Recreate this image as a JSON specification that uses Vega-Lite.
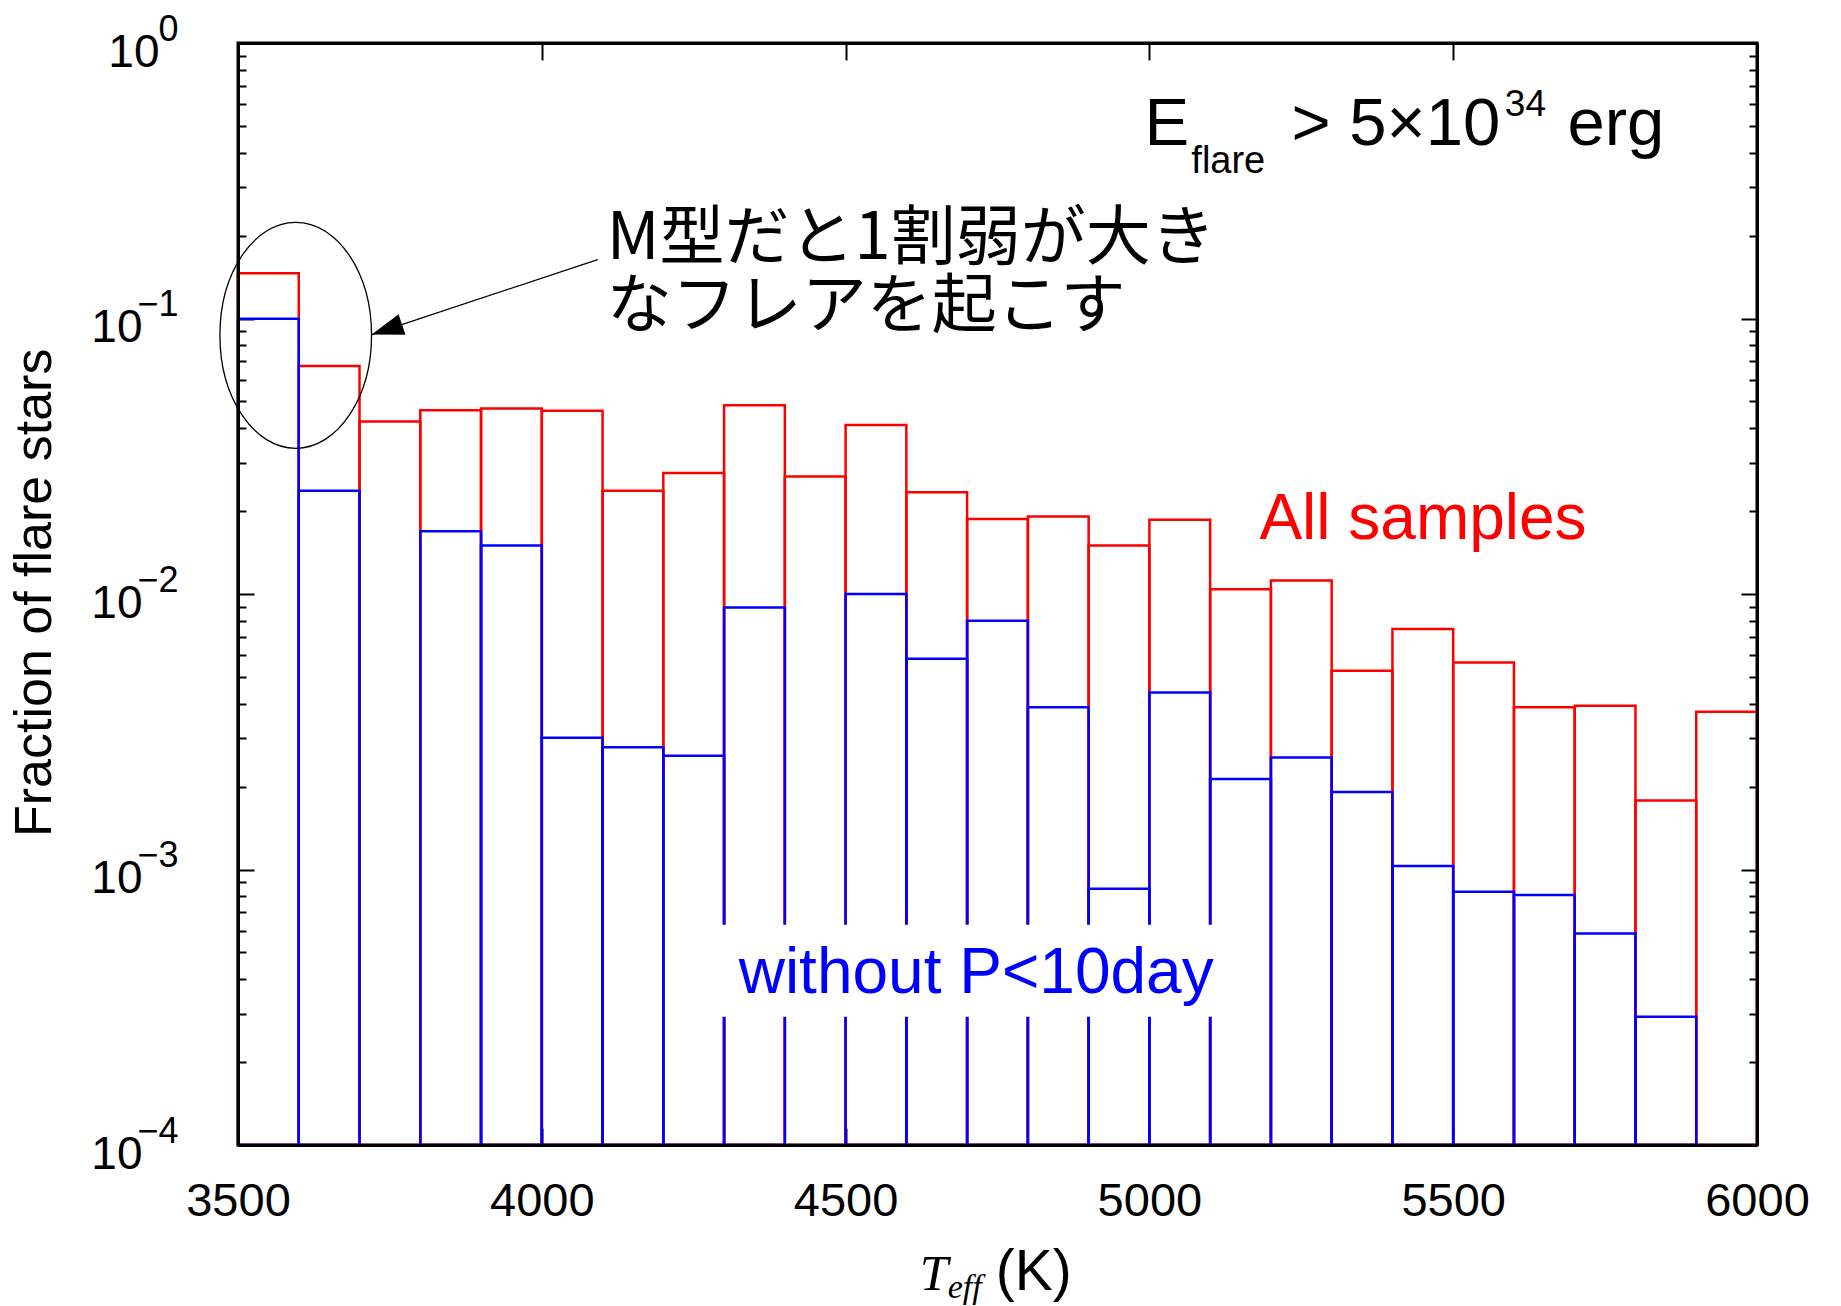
{
  "$schema": "https://vega.github.io/schema/vega-lite/v6.json",
  "width": 1519,
  "height": 1102,
  "autosize": {"type": "none"},
  "padding": {"left": 238, "top": 43, "right": 84, "bottom": 161},
  "background": "white",
  "config": {
    "view": {"stroke": "black", "strokeWidth": 3},
    "axis": {"grid": false, "domain": false, "labelFont": "Liberation Sans", "labelColor": "black", "tickColor": "black", "tickWidth": 2, "labelFlush": false, "labelOverlap": false, "domainColor": "black", "domainWidth": 3}
  },
  "datasets": {
    "bins": [
      {"t0": 3500, "t1": 3600, "all": 0.146, "nop": 0.0998},
      {"t0": 3600, "t1": 3700, "all": 0.0672, "nop": 0.0237},
      {"t0": 3700, "t1": 3800, "all": 0.0423, "nop": 0},
      {"t0": 3800, "t1": 3900, "all": 0.0464, "nop": 0.0169},
      {"t0": 3900, "t1": 4000, "all": 0.0471, "nop": 0.0150},
      {"t0": 4000, "t1": 4100, "all": 0.0463, "nop": 0.00301},
      {"t0": 4100, "t1": 4200, "all": 0.0237, "nop": 0.00278},
      {"t0": 4200, "t1": 4300, "all": 0.0275, "nop": 0.00259},
      {"t0": 4300, "t1": 4400, "all": 0.0484, "nop": 0.00893},
      {"t0": 4400, "t1": 4500, "all": 0.0267, "nop": 0},
      {"t0": 4500, "t1": 4600, "all": 0.0411, "nop": 0.0100},
      {"t0": 4600, "t1": 4700, "all": 0.0234, "nop": 0.00582},
      {"t0": 4700, "t1": 4800, "all": 0.0187, "nop": 0.00799},
      {"t0": 4800, "t1": 4900, "all": 0.0191, "nop": 0.00388},
      {"t0": 4900, "t1": 5000, "all": 0.0150, "nop": 0.000851},
      {"t0": 5000, "t1": 5100, "all": 0.0186, "nop": 0.00439},
      {"t0": 5100, "t1": 5200, "all": 0.0104, "nop": 0.00213},
      {"t0": 5200, "t1": 5300, "all": 0.0112, "nop": 0.00255},
      {"t0": 5300, "t1": 5400, "all": 0.00527, "nop": 0.00191},
      {"t0": 5400, "t1": 5500, "all": 0.00747, "nop": 0.00103},
      {"t0": 5500, "t1": 5600, "all": 0.00564, "nop": 0.000830},
      {"t0": 5600, "t1": 5700, "all": 0.00388, "nop": 0.000808},
      {"t0": 5700, "t1": 5800, "all": 0.00393, "nop": 0.000586},
      {"t0": 5800, "t1": 5900, "all": 0.00178, "nop": 0.000292},
      {"t0": 5900, "t1": 6000, "all": 0.00374, "nop": 0}
    ],
    "big": [
      {"txt": "E", "x": 4992, "y": 0.4246},
      {"txt": "> 5×10", "x": 5234, "y": 0.4246},
      {"txt": "erg", "x": 5688, "y": 0.4246}
    ],
    "sub": [{"txt": "flare", "x": 5069, "y": 0.3379}],
    "sup": [{"txt": "34", "x": 5585, "y": 0.5427}],
    "jp": [
      {"txt": "M型だと1割弱が大き\nなフレアを起こす", "x": 4107, "y": 0.1951}
    ],
    "allLabel": [{"txt": "All samples", "x": 5181, "y": 0.01582}],
    "nopLabel": [{"txt": "without P<10day", "x": 4324, "y": 0.000356}],
    "box": [{"x0": 4245, "x1": 5150, "y0": 0.000292, "y1": 0.00063}],
    "ellipse": [{"x": 3595, "y": 0.0869}],
    "arrow": [{"x": 4092, "y": 0.1637, "x2": 3720, "y2": 0.0874}],
    "xT": [{"txt": "T", "x": 4622, "y": 0.00002974}],
    "xEff": [{"txt": "eff", "x": 4668, "y": 0.00002781}],
    "xK": [{"txt": "(K)", "x": 4747, "y": 0.00002974}],
    "yTitle": [{"txt": "Fraction of flare stars", "x": 3193, "y": 0.0101}]
  },
  "resolve": {"axis": {"x": "independent", "y": "independent"}},
  "layer": [
    {
      "data": {"name": "bins"},
      "mark": {"type": "rect", "filled": false, "stroke": "#ff0000", "strokeWidth": 2.5},
      "encoding": {
        "x": {"field": "t0", "type": "quantitative", "scale": {"type": "linear", "domain": [3500, 6000], "nice": false, "zero": false},
              "axis": {"orient": "bottom", "values": [3500, 4000, 4500, 5000, 5500, 6000], "format": "d", "ticks": false, "labelFontSize": 47, "labelPadding": 33, "domain": true, "zindex": 1, "title": null}},
        "x2": {"field": "t1"},
        "y": {"field": "all", "type": "quantitative", "scale": {"type": "log", "domain": [0.0001, 1], "nice": false},
              "axis": {"orient": "left", "values": [0.0001, 0.001, 0.01, 0.1, 1], "ticks": false, "labelExpr": "'10'", "labelFont": "Liberation Sans Narrow, Liberation Sans", "labelFontSize": 46, "labelPadding": {"condition": {"test": "datum.value > 0.5", "value": 79}, "value": 96}, "labelOffset": 9, "labelAlign": "right", "labelBaseline": "middle", "domain": true, "zindex": 1, "title": null}},
        "y2": {"datum": 0.0001}
      }
    },
    {
      "data": {"name": "bins"},
      "transform": [{"filter": "datum.nop > 0"}],
      "mark": {"type": "rect", "filled": false, "stroke": "#0000ff", "strokeWidth": 2.5},
      "encoding": {
        "x": {"field": "t0", "type": "quantitative", "scale": {"type": "linear", "domain": [3500, 6000], "nice": false, "zero": false},
              "axis": {"orient": "top", "values": [3500, 4000, 4500, 5000, 5500, 6000], "labels": false, "ticks": true, "tickSize": 17, "offset": -17, "title": null}},
        "x2": {"field": "t1"},
        "y": {"field": "nop", "type": "quantitative", "scale": {"type": "log", "domain": [0.0001, 1], "nice": false},
              "axis": {"orient": "left", "values": [0.0001, 0.001, 0.01, 0.1, 1], "ticks": false, "labelExpr": "datum.value > 0.5 ? '0' : datum.value > 0.05 ? '−1' : datum.value > 0.005 ? '−2' : datum.value > 0.0005 ? '−3' : '−4'", "labelFont": "Liberation Sans Narrow, Liberation Sans", "labelFontSize": 36, "labelPadding": 60, "labelOffset": -14, "labelAlign": "right", "labelBaseline": "middle", "zindex": 1, "title": null}},
        "y2": {"datum": 0.0001}
      }
    },
    {
      "data": {"name": "box"},
      "mark": {"type": "rect", "fill": "white", "stroke": null},
      "encoding": {
        "x": {"field": "x0", "type": "quantitative", "scale": {"type": "linear", "domain": [3500, 6000], "nice": false, "zero": false},
              "axis": {"orient": "bottom", "values": [3500, 4000, 4500, 5000, 5500, 6000], "labels": false, "ticks": true, "tickSize": 17, "offset": -17, "title": null}},
        "x2": {"field": "x1"},
        "y": {"field": "y1", "type": "quantitative", "scale": {"type": "log", "domain": [0.0001, 1], "nice": false},
              "axis": {"orient": "left", "values": [0.0001, 0.001, 0.01, 0.1, 1], "labels": false, "ticks": true, "tickSize": 16, "offset": -16, "title": null}},
        "y2": {"field": "y0"}
      }
    },
    {
      "data": {"name": "jp"},
      "mark": {"type": "text", "font": "Noto Sans CJK JP", "fontSize": 65, "lineHeight": 68, "lineBreak": "\n", "align": "left", "baseline": "middle", "color": "black"},
      "encoding": {
        "x": {"field": "x", "type": "quantitative", "scale": {"type": "linear", "domain": [3500, 6000], "nice": false, "zero": false}, "axis": null},
        "y": {"field": "y", "type": "quantitative", "scale": {"type": "log", "domain": [0.0001, 1], "nice": false},
              "axis": {"orient": "left", "values": [0.0002, 0.0003, 0.0004, 0.0005, 0.0006, 0.0007, 0.0008, 0.0009, 0.002, 0.003, 0.004, 0.005, 0.006, 0.007, 0.008, 0.009, 0.02, 0.03, 0.04, 0.05, 0.06, 0.07, 0.08, 0.09, 0.2, 0.3, 0.4, 0.5, 0.6, 0.7, 0.8, 0.9], "labels": false, "ticks": true, "tickSize": 8, "offset": -8, "title": null}},
        "text": {"field": "txt"}
      }
    },
    {
      "data": {"name": "allLabel"},
      "mark": {"type": "text", "font": "Liberation Sans", "fontSize": 64, "align": "left", "baseline": "alphabetic", "color": "#ff0000"},
      "encoding": {
        "x": {"field": "x", "type": "quantitative", "scale": {"type": "linear", "domain": [3500, 6000], "nice": false, "zero": false}, "axis": null},
        "y": {"field": "y", "type": "quantitative", "scale": {"type": "log", "domain": [0.0001, 1], "nice": false},
              "axis": {"orient": "right", "values": [0.0001, 0.001, 0.01, 0.1, 1], "labels": false, "ticks": true, "tickSize": 16, "offset": -16, "title": null}},
        "text": {"field": "txt"}
      }
    },
    {
      "data": {"name": "nopLabel"},
      "mark": {"type": "text", "font": "Liberation Sans", "fontSize": 64, "align": "left", "baseline": "alphabetic", "color": "#0000ff"},
      "encoding": {
        "x": {"field": "x", "type": "quantitative", "scale": {"type": "linear", "domain": [3500, 6000], "nice": false, "zero": false}, "axis": null},
        "y": {"field": "y", "type": "quantitative", "scale": {"type": "log", "domain": [0.0001, 1], "nice": false},
              "axis": {"orient": "right", "values": [0.0002, 0.0003, 0.0004, 0.0005, 0.0006, 0.0007, 0.0008, 0.0009, 0.002, 0.003, 0.004, 0.005, 0.006, 0.007, 0.008, 0.009, 0.02, 0.03, 0.04, 0.05, 0.06, 0.07, 0.08, 0.09, 0.2, 0.3, 0.4, 0.5, 0.6, 0.7, 0.8, 0.9], "labels": false, "ticks": true, "tickSize": 8, "offset": -8, "title": null}},
        "text": {"field": "txt"}
      }
    },
    {
      "data": {"name": "big"},
      "mark": {"type": "text", "font": "Liberation Sans", "fontSize": 67, "align": "left", "baseline": "alphabetic", "color": "black"},
      "encoding": {
        "x": {"field": "x", "type": "quantitative", "scale": {"type": "linear", "domain": [3500, 6000], "nice": false, "zero": false},
              "axis": {"orient": "top", "labels": false, "ticks": false, "domain": true, "zindex": 1, "title": null}},
        "y": {"field": "y", "type": "quantitative", "scale": {"type": "log", "domain": [0.0001, 1], "nice": false},
              "axis": {"orient": "right", "labels": false, "ticks": false, "domain": true, "zindex": 1, "title": null}},
        "text": {"field": "txt"}
      }
    },
    {
      "data": {"name": "sub"},
      "mark": {"type": "text", "font": "Liberation Sans", "fontSize": 38, "align": "left", "baseline": "alphabetic", "color": "black"},
      "encoding": {
        "x": {"field": "x", "type": "quantitative", "scale": {"type": "linear", "domain": [3500, 6000], "nice": false, "zero": false}, "axis": null},
        "y": {"field": "y", "type": "quantitative", "scale": {"type": "log", "domain": [0.0001, 1], "nice": false}, "axis": null},
        "text": {"field": "txt"}
      }
    },
    {
      "data": {"name": "sup"},
      "mark": {"type": "text", "font": "Liberation Sans", "fontSize": 37, "align": "left", "baseline": "alphabetic", "color": "black"},
      "encoding": {
        "x": {"field": "x", "type": "quantitative", "scale": {"type": "linear", "domain": [3500, 6000], "nice": false, "zero": false}, "axis": null},
        "y": {"field": "y", "type": "quantitative", "scale": {"type": "log", "domain": [0.0001, 1], "nice": false}, "axis": null},
        "text": {"field": "txt"}
      }
    },
    {
      "data": {"name": "ellipse"},
      "mark": {"type": "point", "shape": "M -0.671 0 A 0.671 1 0 1 1 0.671 0 A 0.671 1 0 1 1 -0.671 0 Z", "size": 51076, "filled": false, "color": "black", "strokeWidth": 1.3, "opacity": 1},
      "encoding": {
        "x": {"field": "x", "type": "quantitative", "scale": {"type": "linear", "domain": [3500, 6000], "nice": false, "zero": false}, "axis": null},
        "y": {"field": "y", "type": "quantitative", "scale": {"type": "log", "domain": [0.0001, 1], "nice": false}, "axis": null}
      }
    },
    {
      "data": {"name": "arrow"},
      "mark": {"type": "rule", "color": "black", "strokeWidth": 1.3},
      "encoding": {
        "x": {"field": "x", "type": "quantitative", "scale": {"type": "linear", "domain": [3500, 6000], "nice": false, "zero": false}, "axis": null},
        "y": {"field": "y", "type": "quantitative", "scale": {"type": "log", "domain": [0.0001, 1], "nice": false}, "axis": null},
        "x2": {"field": "x2"},
        "y2": {"field": "y2"}
      }
    },
    {
      "data": {"name": "arrow"},
      "mark": {"type": "point", "shape": "M 0 0 L 2 -0.68 L 2 0.68 Z", "size": 1024, "filled": true, "color": "black", "opacity": 1, "angle": 341.6, "strokeWidth": 0},
      "encoding": {
        "x": {"field": "x2", "type": "quantitative", "scale": {"type": "linear", "domain": [3500, 6000], "nice": false, "zero": false}, "axis": null},
        "y": {"field": "y2", "type": "quantitative", "scale": {"type": "log", "domain": [0.0001, 1], "nice": false}, "axis": null}
      }
    },
    {
      "data": {"name": "xT"},
      "mark": {"type": "text", "font": "Liberation Serif", "fontStyle": "italic", "fontSize": 51, "align": "left", "baseline": "alphabetic", "color": "black"},
      "encoding": {
        "x": {"field": "x", "type": "quantitative", "scale": {"type": "linear", "domain": [3500, 6000], "nice": false, "zero": false}, "axis": null},
        "y": {"field": "y", "type": "quantitative", "scale": {"type": "log", "domain": [0.0001, 1], "nice": false}, "axis": null},
        "text": {"field": "txt"}
      }
    },
    {
      "data": {"name": "xEff"},
      "mark": {"type": "text", "font": "Liberation Serif", "fontStyle": "italic", "fontSize": 34, "align": "left", "baseline": "alphabetic", "color": "black"},
      "encoding": {
        "x": {"field": "x", "type": "quantitative", "scale": {"type": "linear", "domain": [3500, 6000], "nice": false, "zero": false}, "axis": null},
        "y": {"field": "y", "type": "quantitative", "scale": {"type": "log", "domain": [0.0001, 1], "nice": false}, "axis": null},
        "text": {"field": "txt"}
      }
    },
    {
      "data": {"name": "xK"},
      "mark": {"type": "text", "font": "Liberation Sans", "fontSize": 57, "align": "left", "baseline": "alphabetic", "color": "black"},
      "encoding": {
        "x": {"field": "x", "type": "quantitative", "scale": {"type": "linear", "domain": [3500, 6000], "nice": false, "zero": false}, "axis": null},
        "y": {"field": "y", "type": "quantitative", "scale": {"type": "log", "domain": [0.0001, 1], "nice": false}, "axis": null},
        "text": {"field": "txt"}
      }
    },
    {
      "data": {"name": "yTitle"},
      "mark": {"type": "text", "font": "Liberation Sans", "fontSize": 52, "align": "center", "baseline": "alphabetic", "angle": 270, "color": "black"},
      "encoding": {
        "x": {"field": "x", "type": "quantitative", "scale": {"type": "linear", "domain": [3500, 6000], "nice": false, "zero": false}, "axis": null},
        "y": {"field": "y", "type": "quantitative", "scale": {"type": "log", "domain": [0.0001, 1], "nice": false}, "axis": null},
        "text": {"field": "txt"}
      }
    }
  ]
}
